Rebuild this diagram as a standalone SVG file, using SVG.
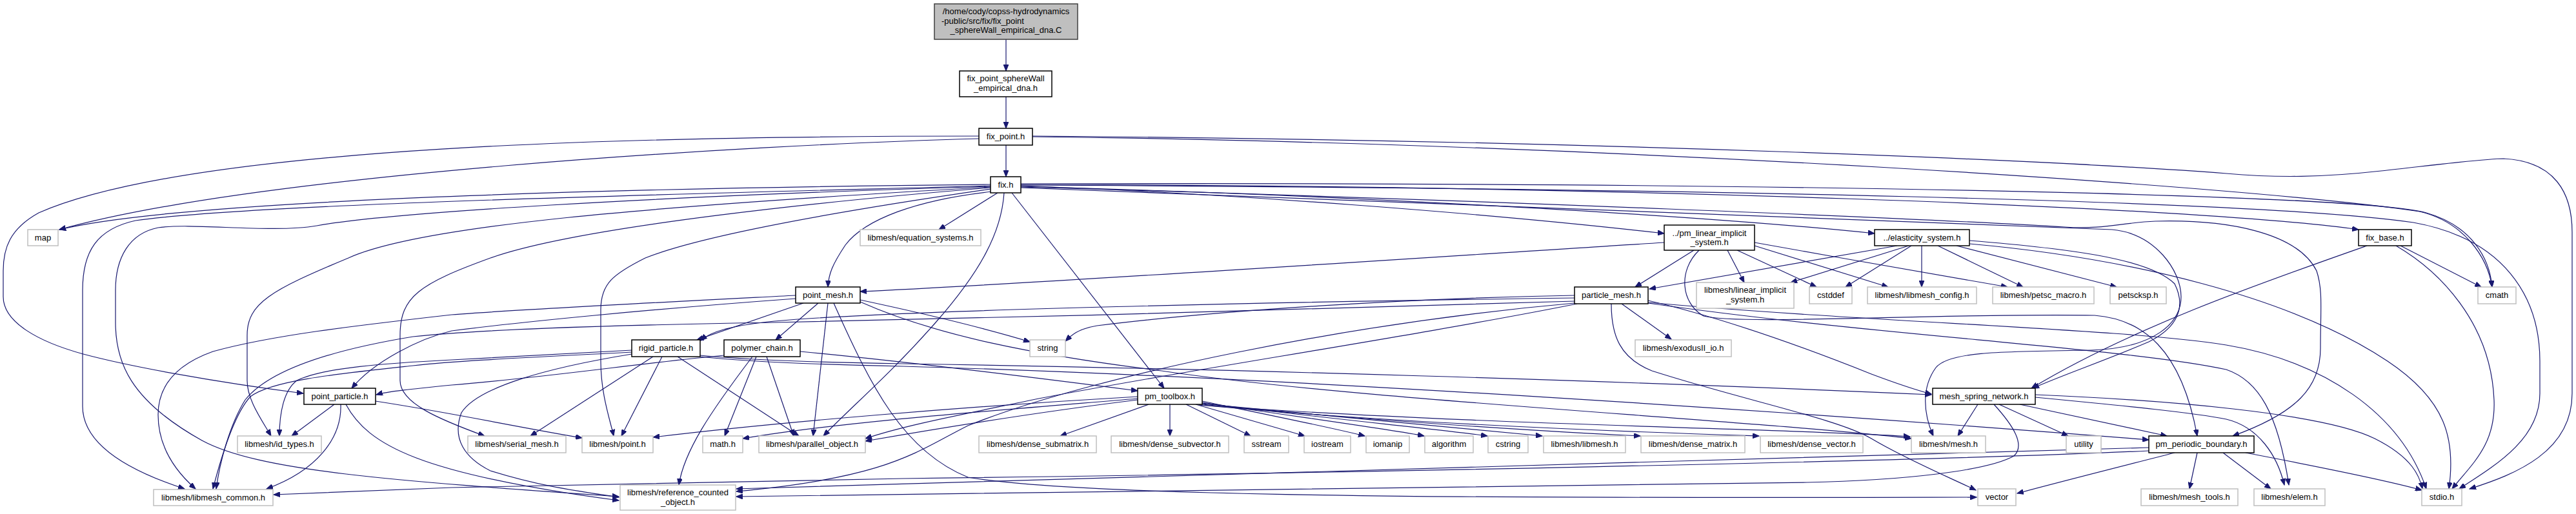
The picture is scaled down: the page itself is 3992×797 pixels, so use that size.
<svg xmlns="http://www.w3.org/2000/svg" width="3992" height="797" viewBox="0 0 3992 797">
<style>
.d{fill:#fff;stroke:#000;stroke-width:1.5}
.e{fill:#fff;stroke:#bfbfbf;stroke-width:1.5}
.r{fill:#bfbfbf;stroke:#404040;stroke-width:1.5}
text{font-family:'Liberation Sans',Arial,sans-serif;font-size:13px;fill:#000;text-anchor:middle}
.c path{fill:none;stroke:#191970;stroke-width:1.2;marker-end:url(#a)}
</style>
<defs>
<marker id="a" markerUnits="userSpaceOnUse" markerWidth="11" markerHeight="8" refX="10" refY="4" orient="auto"><path d="M0,0 L10,4 L0,8 z" fill="#191970" stroke="#191970" stroke-width="1"/></marker>
</defs>
<rect width="3992" height="797" fill="#fff"/>
<g id="edges" class="c">
<path d="M1559,61 L1559,110"/>
<path d="M1559,150 L1559,199"/>
<path d="M1559,225 L1559,274"/>
<path d="M1517,215 C1150,225 400,270 92,356"/>
<path d="M1517,211 C1000,211 300,225 60,330 C15,355 5,385 5,420 L5,460 C5,500 60,530 129,549 C200,568 330,592 470,610"/>
<path d="M1600,212 C2500,222 3500,290 3750,328 C3820,345 3855,400 3862,445"/>
<path d="M1600,211 C2500,218 3200,250 3450,269 C3530,276 3600,275 3690,265 C3780,255 3850,246 3880,246 C3960,250 3986,300 3986,360 L3986,610 C3986,700 3900,735 3827,758"/>
<path d="M1535,286 C1100,290 300,305 92,356"/>
<path d="M1535,288 C1100,300 400,315 210,342 C150,355 128,390 128,450 L128,630 C128,690 200,730 286,758"/>
<path d="M1535,289 C1000,305 600,330 491,350 C420,362 300,345 245,353 C200,362 179,400 179,450 L179,500 C179,560 200,620 313,683 C400,730 600,745 959,770"/>
<path d="M1535,290 C1000,320 650,350 540,400 C420,450 383,470 383,520 L383,590 C383,620 405,650 420,676"/>
<path d="M1535,291 C1300,310 900,350 760,400 C650,440 620,460 620,520 L620,590 C620,625 680,650 751,676"/>
<path d="M1536,293 C1350,320 1100,360 1000,400 C950,425 931,440 931,480 L931,560 C931,610 945,650 951,676"/>
<path d="M1537,297 C1420,310 1340,340 1310,380 C1290,410 1284,425 1283,445"/>
<path d="M1546,299 L1455,356"/>
<path d="M1556,299 C1552,360 1520,420 1450,500 C1380,580 1320,630 1276,676"/>
<path d="M1568,299 L1804,602"/>
<path d="M1582,288 C1900,300 2300,330 2579,362"/>
<path d="M1582,289 C2000,300 2600,330 2905,362"/>
<path d="M1582,286 C2500,288 3400,320 3655,356"/>
<path d="M1582,285 C2700,282 3650,300 3760,330 C3830,350 3858,400 3862,445"/>
<path d="M1582,287 C2600,292 3500,310 3740,345 C3880,370 3936,460 3936,560 L3936,610 C3936,680 3870,720 3811,758"/>
<path d="M1582,290 C2300,310 3000,340 3200,352 C3260,356 3290,345 3340,343 C3450,340 3560,360 3590,420 C3600,450 3596,480 3596,540 C3596,600 3560,640 3460,676"/>
<path d="M1582,291 C2300,320 2900,345 3273,356 C3340,362 3380,420 3380,460 C3380,500 3340,540 3240,543 C3100,545 3020,545 3000,570 C2978,600 2980,640 2996,676"/>
<path d="M3052,373 C3200,385 3330,400 3370,440 C3390,480 3370,510 3330,530 C3260,560 3200,580 3150,602"/>
<path d="M3052,378 C3300,400 3550,460 3700,560 C3790,620 3806,680 3795,758"/>
<path d="M3720,381 L3845,445"/>
<path d="M3713,381 C3780,420 3860,500 3865,620 C3868,690 3830,720 3800,758"/>
<path d="M3668,381 C3500,440 3300,510 3148,602"/>
<path d="M2579,376 C2200,400 1600,440 1333,452"/>
<path d="M2625,388 L2534,445"/>
<path d="M2677,388 L2703,438"/>
<path d="M2692,388 L2815,445"/>
<path d="M2719,381 L2926,445"/>
<path d="M2719,376 C2850,400 3000,425 3111,445"/>
<path d="M2633,388 C2600,420 2605,470 2640,490 C2700,505 3000,485 3246,489 C3320,495 3380,540 3405,676"/>
<path d="M2940,381 L2556,448"/>
<path d="M2958,381 L2775,438"/>
<path d="M2962,381 L2860,445"/>
<path d="M2978,381 L2978,445"/>
<path d="M3003,381 L3135,445"/>
<path d="M3032,381 L3280,445"/>
<path d="M1245,470 L1080,527"/>
<path d="M1268,470 L1202,527"/>
<path d="M1283,470 L1260,676"/>
<path d="M1333,465 C1450,490 1530,510 1596,530"/>
<path d="M1292,470 C1350,600 1400,700 1500,740 C1700,775 2500,772 3063,771"/>
<path d="M1233,458 C1000,470 800,480 700,488 C550,505 420,520 330,545 C260,570 245,610 245,643 C245,680 260,720 303,758"/>
<path d="M1233,463 C1000,480 800,500 700,513 C650,525 580,560 545,602"/>
<path d="M1333,468 C1450,520 1600,550 1800,575 C2100,620 2700,650 2962,680"/>
<path d="M1012,553 L822,676"/>
<path d="M1026,553 L963,676"/>
<path d="M1050,553 L1238,676"/>
<path d="M979,543 C850,550 750,555 700,558 C600,563 500,570 460,590 C440,605 433,640 433,676"/>
<path d="M979,546 C850,553 720,558 640,567 C520,580 420,590 388,615 C365,640 345,700 330,758"/>
<path d="M979,549 C850,570 740,600 715,640 C700,680 720,710 760,730 C840,755 900,762 959,771"/>
<path d="M1085,551 C1150,557 1250,562 1400,564 C1900,572 2500,590 2993,612"/>
<path d="M1085,553 C1150,560 1250,565 1400,568 C2000,585 2800,640 3330,682"/>
<path d="M1172,553 L1123,676"/>
<path d="M1188,553 L1230,676"/>
<path d="M1166,553 C1100,640 1060,700 1052,752"/>
<path d="M1240,545 C1400,560 1600,585 1763,606"/>
<path d="M1122,551 C1000,562 850,585 700,597 C640,603 600,607 583,612"/>
<path d="M518,627 L452,676"/>
<path d="M528,627 C530,680 490,730 413,758"/>
<path d="M536,627 C570,690 650,735 959,776"/>
<path d="M582,622 C700,640 800,662 902,679"/>
<path d="M2513,471 L2590,526"/>
<path d="M2497,471 C2497,520 2510,555 2560,575 C2700,620 2850,650 2900,680 C2950,710 3020,740 3062,760"/>
<path d="M2440,458 C2200,462 1900,480 1700,505 C1670,510 1660,520 1651,529"/>
<path d="M2440,462 C2000,468 1400,480 1200,498 C1130,505 1100,515 1086,528"/>
<path d="M2440,467 C2100,478 1600,492 1200,500 C900,505 720,513 640,522 C530,540 420,570 380,620 C355,660 340,720 335,758"/>
<path d="M2440,470 C2100,500 1700,580 1500,660 C1420,700 1380,740 1141,762"/>
<path d="M2444,471 C2200,520 1800,580 1600,620 C1480,645 1400,660 1341,680"/>
<path d="M2554,466 C2700,500 2850,560 2900,580 C2940,595 2970,605 2993,611"/>
<path d="M2554,470 C2900,520 3300,540 3450,573 C3500,590 3530,640 3547,752"/>
<path d="M2554,469 C2900,500 3300,510 3450,535 C3600,560 3720,640 3760,758"/>
<path d="M3065,627 L3034,676"/>
<path d="M3098,627 L3205,676"/>
<path d="M3130,627 L3358,676"/>
<path d="M3090,627 C3120,660 3139,690 3121,707 C3080,730 2950,745 2800,748 C2200,758 1600,766 1141,770"/>
<path d="M3154,616 C3300,630 3400,640 3450,650 C3500,662 3529,706 3540,752"/>
<path d="M3154,612 C3350,620 3600,640 3680,680 C3740,710 3750,740 3754,758"/>
<path d="M3405,702 L3393,758"/>
<path d="M3445,702 L3519,758"/>
<path d="M3480,702 C3600,725 3700,745 3753,760"/>
<path d="M3370,702 C3300,720 3200,745 3126,765"/>
<path d="M3330,699 C3000,715 2000,735 1400,742 C1200,745 1000,748 700,756 C600,760 500,764 424,767"/>
<path d="M3330,694 C3100,700 2800,710 2600,715 C2000,730 1500,745 1141,758"/>
<path d="M1780,627 L1643,676"/>
<path d="M1813,627 L1813,676"/>
<path d="M1838,627 L1938,676"/>
<path d="M1853,627 L2022,676"/>
<path d="M1863,622 C1950,640 2050,660 2115,676"/>
<path d="M1863,624 C2000,645 2150,665 2207,676"/>
<path d="M1863,625 C2050,648 2250,668 2305,676"/>
<path d="M1863,626 C2100,650 2330,670 2390,676"/>
<path d="M1863,627 C2150,655 2450,672 2542,676"/>
<path d="M1860,628 C2200,660 2600,672 2726,676"/>
<path d="M1858,628 C2300,660 2800,665 2960,677"/>
<path d="M1763,615 C1500,630 1200,655 1012,678"/>
<path d="M1763,618 C1500,640 1300,655 1151,680"/>
<path d="M1763,620 C1600,640 1450,665 1341,684"/>
</g>
<g id="n_root"><rect class="r" x="1448" y="6" width="222" height="55"/><text x="1559" y="22">/home/cody/copss-hydrodynamics</text><text x="1459" y="37" style="text-anchor:start">-public/src/fix/fix_point</text><text x="1559" y="51">_sphereWall_empirical_dna.C</text></g>
<g id="n_fpswh"><rect class="d" x="1487" y="110" width="143" height="40"/><text x="1558.5" y="126">fix_point_sphereWall</text><text x="1558.5" y="141">_empirical_dna.h</text></g>
<g id="n_fix_point"><rect class="d" x="1517" y="199" width="83" height="26"/><text x="1558.5" y="216">fix_point.h</text></g>
<g id="n_fix"><rect class="d" x="1535" y="274" width="47" height="25"/><text x="1558.5" y="291">fix.h</text></g>
<g id="n_map"><rect class="e" x="43" y="356" width="47" height="25"/><text x="66.5" y="373">map</text></g>
<g id="n_eqsys"><rect class="e" x="1333" y="356" width="187" height="25"/><text x="1426.5" y="373">libmesh/equation_systems.h</text></g>
<g id="n_pmlin"><rect class="d" x="2579" y="349" width="140" height="39"/><text x="2649" y="366">../pm_linear_implicit</text><text x="2649" y="380">_system.h</text></g>
<g id="n_elast"><rect class="d" x="2905" y="356" width="147" height="25"/><text x="2978.5" y="373">../elasticity_system.h</text></g>
<g id="n_fixbase"><rect class="d" x="3655" y="356" width="82" height="25"/><text x="3696" y="373">fix_base.h</text></g>
<g id="n_pointmesh"><rect class="d" x="1233" y="445" width="100" height="25"/><text x="1283" y="462">point_mesh.h</text></g>
<g id="n_partmesh"><rect class="d" x="2440" y="445" width="114" height="26"/><text x="2497" y="462">particle_mesh.h</text></g>
<g id="n_linimp"><rect class="e" x="2629" y="438" width="151" height="40"/><text x="2704.5" y="454">libmesh/linear_implicit</text><text x="2704.5" y="469">_system.h</text></g>
<g id="n_cstddef"><rect class="e" x="2804" y="445" width="66" height="26"/><text x="2837" y="462">cstddef</text></g>
<g id="n_config"><rect class="e" x="2894" y="445" width="169" height="26"/><text x="2978.5" y="462">libmesh/libmesh_config.h</text></g>
<g id="n_petscmacro"><rect class="e" x="3088" y="445" width="157" height="26"/><text x="3166.5" y="462">libmesh/petsc_macro.h</text></g>
<g id="n_petscksp"><rect class="e" x="3270" y="445" width="87" height="26"/><text x="3313.5" y="462">petscksp.h</text></g>
<g id="n_cmath"><rect class="e" x="3840" y="445" width="59" height="26"/><text x="3869.5" y="462">cmath</text></g>
<g id="n_rigid"><rect class="d" x="979" y="527" width="106" height="26"/><text x="1032" y="544">rigid_particle.h</text></g>
<g id="n_polymer"><rect class="d" x="1122" y="527" width="118" height="26"/><text x="1181" y="544">polymer_chain.h</text></g>
<g id="n_string"><rect class="e" x="1596" y="527" width="55" height="26"/><text x="1623.5" y="544">string</text></g>
<g id="n_exodus"><rect class="e" x="2534" y="527" width="149" height="26"/><text x="2608.5" y="544">libmesh/exodusII_io.h</text></g>
<g id="n_pointpart"><rect class="d" x="471" y="602" width="111" height="25"/><text x="526.5" y="619">point_particle.h</text></g>
<g id="n_toolbox"><rect class="d" x="1763" y="602" width="100" height="25"/><text x="1813" y="619">pm_toolbox.h</text></g>
<g id="n_spring"><rect class="d" x="2995" y="602" width="159" height="25"/><text x="3074.5" y="619">mesh_spring_network.h</text></g>
<g id="n_idtypes"><rect class="e" x="368" y="676" width="130" height="26"/><text x="433" y="693">libmesh/id_types.h</text></g>
<g id="n_serial"><rect class="e" x="725" y="676" width="152" height="26"/><text x="801" y="693">libmesh/serial_mesh.h</text></g>
<g id="n_point"><rect class="e" x="902" y="676" width="110" height="26"/><text x="957" y="693">libmesh/point.h</text></g>
<g id="n_math"><rect class="e" x="1089" y="676" width="62" height="26"/><text x="1120" y="693">math.h</text></g>
<g id="n_parobj"><rect class="e" x="1176" y="676" width="165" height="26"/><text x="1258.5" y="693">libmesh/parallel_object.h</text></g>
<g id="n_dsubmat"><rect class="e" x="1517" y="676" width="182" height="26"/><text x="1608" y="693">libmesh/dense_submatrix.h</text></g>
<g id="n_dsubvec"><rect class="e" x="1722" y="676" width="182" height="26"/><text x="1813" y="693">libmesh/dense_subvector.h</text></g>
<g id="n_sstream"><rect class="e" x="1928" y="676" width="69" height="26"/><text x="1962.5" y="693">sstream</text></g>
<g id="n_iostream"><rect class="e" x="2021" y="676" width="72" height="26"/><text x="2057" y="693">iostream</text></g>
<g id="n_iomanip"><rect class="e" x="2117" y="676" width="67" height="26"/><text x="2150.5" y="693">iomanip</text></g>
<g id="n_algorithm"><rect class="e" x="2208" y="676" width="75" height="26"/><text x="2245.5" y="693">algorithm</text></g>
<g id="n_cstring"><rect class="e" x="2306" y="676" width="62" height="26"/><text x="2337" y="693">cstring</text></g>
<g id="n_libmesh"><rect class="e" x="2392" y="676" width="127" height="26"/><text x="2455.5" y="693">libmesh/libmesh.h</text></g>
<g id="n_dmat"><rect class="e" x="2543" y="676" width="161" height="26"/><text x="2623.5" y="693">libmesh/dense_matrix.h</text></g>
<g id="n_dvec"><rect class="e" x="2728" y="676" width="159" height="26"/><text x="2807.5" y="693">libmesh/dense_vector.h</text></g>
<g id="n_mesh"><rect class="e" x="2962" y="676" width="115" height="26"/><text x="3019.5" y="693">libmesh/mesh.h</text></g>
<g id="n_utility"><rect class="e" x="3202" y="676" width="54" height="26"/><text x="3229" y="693">utility</text></g>
<g id="n_periodic"><rect class="d" x="3330" y="676" width="163" height="26"/><text x="3411.5" y="693">pm_periodic_boundary.h</text></g>
<g id="n_common"><rect class="e" x="238" y="759" width="185" height="25"/><text x="330.5" y="776">libmesh/libmesh_common.h</text></g>
<g id="n_refcount"><rect class="e" x="961" y="752" width="179" height="39"/><text x="1050.5" y="768">libmesh/reference_counted</text><text x="1050.5" y="783">_object.h</text></g>
<g id="n_vector"><rect class="e" x="3065" y="758" width="59" height="26"/><text x="3094.5" y="775">vector</text></g>
<g id="n_meshtools"><rect class="e" x="3318" y="758" width="150" height="26"/><text x="3393" y="775">libmesh/mesh_tools.h</text></g>
<g id="n_elem"><rect class="e" x="3493" y="758" width="110" height="26"/><text x="3548" y="775">libmesh/elem.h</text></g>
<g id="n_stdio"><rect class="e" x="3753" y="758" width="62" height="26"/><text x="3784" y="775">stdio.h</text></g>
</svg>
